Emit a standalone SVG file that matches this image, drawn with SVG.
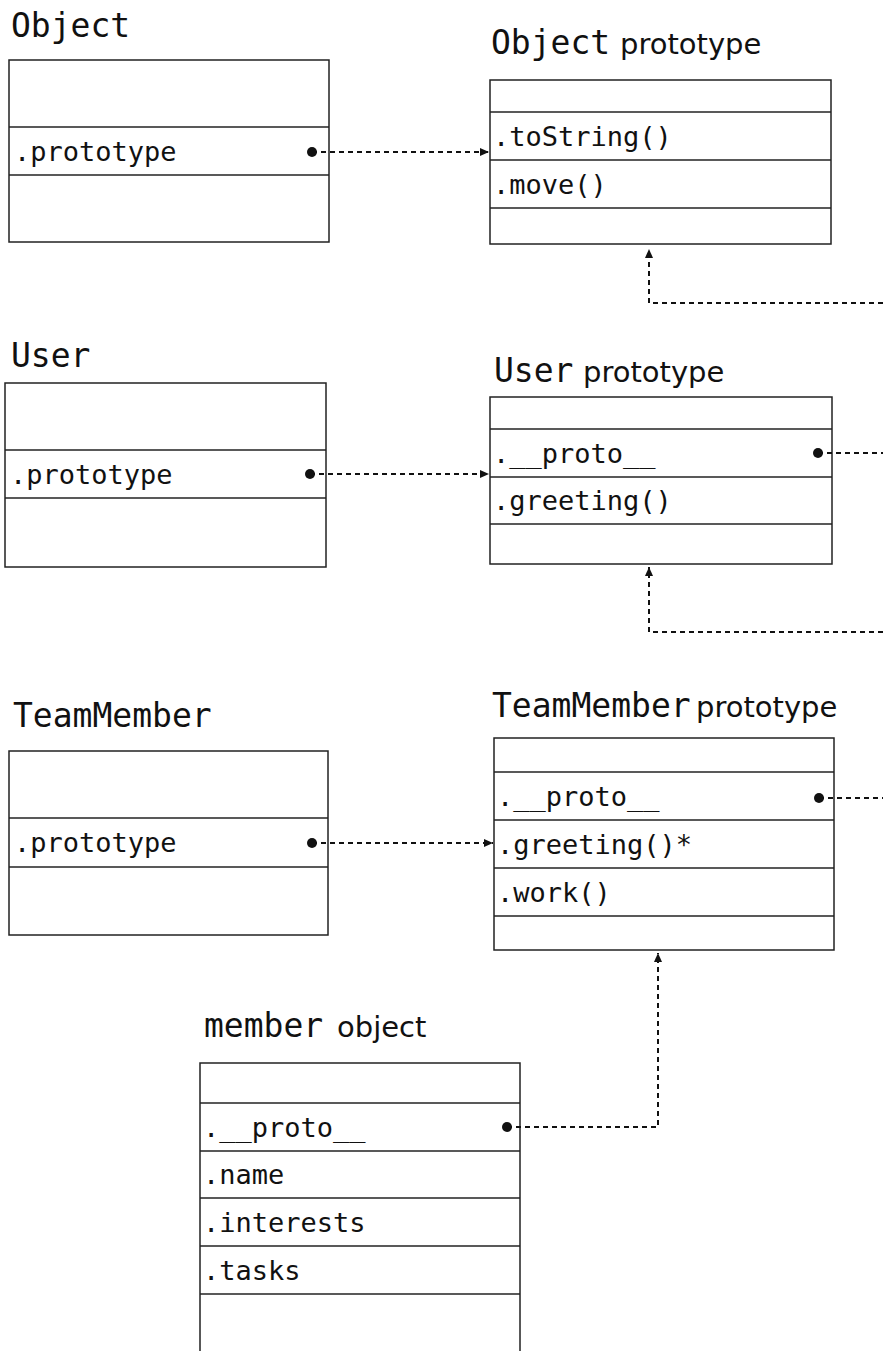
<svg xmlns="http://www.w3.org/2000/svg" width="883" height="1351" viewBox="0 0 883 1351">
<style>
.box{fill:#fff;stroke:#222;stroke-width:1.5}
.sep{stroke:#222;stroke-width:1.5}
.mono{font-family:"DejaVu Sans Mono","Liberation Mono",monospace;fill:#111}
.row{font-size:27px}
.title{font-size:33px}
.sans{font-family:"DejaVu Sans","Liberation Sans",sans-serif;font-size:29px;fill:#111}
.conn{fill:none;stroke:#111;stroke-width:2;stroke-dasharray:5 4}
</style>
<defs>
<marker id="arr" markerUnits="userSpaceOnUse" markerWidth="10" markerHeight="10" refX="9" refY="5" orient="auto">
<path d="M0,1 L9,5 L0,9 z" fill="#111"/>
</marker>
<marker id="dot" markerUnits="userSpaceOnUse" markerWidth="12" markerHeight="12" refX="6" refY="6">
<circle cx="6" cy="6" r="5" fill="#111"/>
</marker>
</defs>
<rect width="883" height="1351" fill="#fff"/>

<g id="object">
<text class="mono title" x="11" y="37">Object</text>
<rect class="box" x="9" y="60" width="320" height="182"/>
<line class="sep" x1="9" y1="127" x2="329" y2="127"/>
<line class="sep" x1="9" y1="175" x2="329" y2="175"/>
<text class="mono row" x="14" y="161">.prototype</text>
</g>

<g id="object-prototype">
<text x="491" y="54"><tspan class="mono title">Object</tspan><tspan class="sans" x="620">prototype</tspan></text>
<rect class="box" x="490" y="80" width="341" height="164"/>
<line class="sep" x1="490" y1="112" x2="831" y2="112"/>
<line class="sep" x1="490" y1="160" x2="831" y2="160"/>
<line class="sep" x1="490" y1="208" x2="831" y2="208"/>
<text class="mono row" x="493" y="146">.toString()</text>
<text class="mono row" x="493" y="194">.move()</text>
</g>

<g id="user">
<text class="mono title" x="11" y="367">User</text>
<rect class="box" x="5" y="383" width="321" height="184"/>
<line class="sep" x1="5" y1="450" x2="326" y2="450"/>
<line class="sep" x1="5" y1="498" x2="326" y2="498"/>
<text class="mono row" x="10" y="484">.prototype</text>
</g>

<g id="user-prototype">
<text x="494" y="382"><tspan class="mono title">User</tspan><tspan class="sans" x="583">prototype</tspan></text>
<rect class="box" x="490" y="397" width="342" height="167"/>
<line class="sep" x1="490" y1="429" x2="832" y2="429"/>
<line class="sep" x1="490" y1="477" x2="832" y2="477"/>
<line class="sep" x1="490" y1="524" x2="832" y2="524"/>
<text class="mono row" x="493" y="463">.__proto__</text>
<text class="mono row" x="493" y="510">.greeting()</text>
</g>

<g id="teammember">
<text class="mono title" x="13" y="727">TeamMember</text>
<rect class="box" x="9" y="751" width="319" height="184"/>
<line class="sep" x1="9" y1="818" x2="328" y2="818"/>
<line class="sep" x1="9" y1="867" x2="328" y2="867"/>
<text class="mono row" x="14" y="852">.prototype</text>
</g>

<g id="teammember-prototype">
<text x="492" y="717"><tspan class="mono title" font-size="32">TeamMember</tspan><tspan class="sans" x="696">prototype</tspan></text>
<rect class="box" x="494" y="738" width="340" height="212"/>
<line class="sep" x1="494" y1="772" x2="834" y2="772"/>
<line class="sep" x1="494" y1="820" x2="834" y2="820"/>
<line class="sep" x1="494" y1="868" x2="834" y2="868"/>
<line class="sep" x1="494" y1="916" x2="834" y2="916"/>
<text class="mono row" x="497" y="806">.__proto__</text>
<text class="mono row" x="497" y="854">.greeting()*</text>
<text class="mono row" x="497" y="902">.work()</text>
</g>

<g id="member-object">
<text x="204" y="1037"><tspan class="mono title">member</tspan><tspan class="sans" x="337" font-size="31">object</tspan></text>
<rect class="box" x="200" y="1063" width="320" height="300"/>
<line class="sep" x1="200" y1="1103" x2="520" y2="1103"/>
<line class="sep" x1="200" y1="1151" x2="520" y2="1151"/>
<line class="sep" x1="200" y1="1198" x2="520" y2="1198"/>
<line class="sep" x1="200" y1="1246" x2="520" y2="1246"/>
<line class="sep" x1="200" y1="1294" x2="520" y2="1294"/>
<text class="mono row" x="203" y="1137">.__proto__</text>
<text class="mono row" x="203" y="1184">.name</text>
<text class="mono row" x="203" y="1232">.interests</text>
<text class="mono row" x="203" y="1280">.tasks</text>
</g>

<g id="connectors">
<path class="conn" d="M312,152 H489" marker-start="url(#dot)" marker-end="url(#arr)"/>
<path class="conn" d="M883,303 H649 V249" marker-end="url(#arr)"/>
<path class="conn" d="M310,474 H489" marker-start="url(#dot)" marker-end="url(#arr)"/>
<path class="conn" d="M818,453 H883" marker-start="url(#dot)"/>
<path class="conn" d="M883,632 H649 V567" marker-end="url(#arr)"/>
<path class="conn" d="M312,843 H493" marker-start="url(#dot)" marker-end="url(#arr)"/>
<path class="conn" d="M819,798 H883" marker-start="url(#dot)"/>
<path class="conn" d="M507,1127 H658 V953" marker-start="url(#dot)" marker-end="url(#arr)"/>
</g>
</svg>
